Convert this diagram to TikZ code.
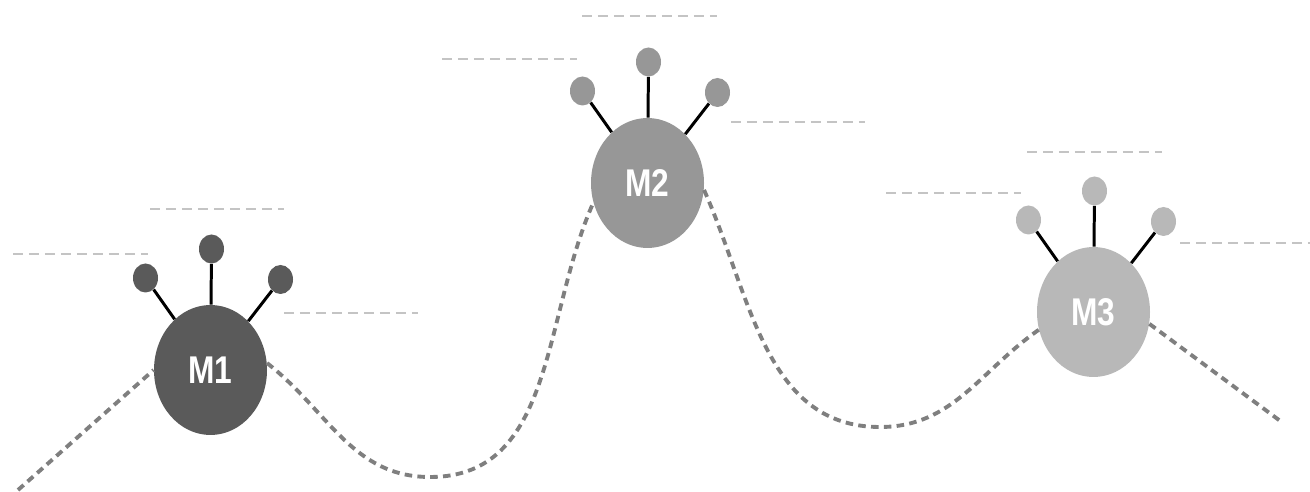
\documentclass[tikz,border=0pt]{standalone}
\usepackage{fontspec}
\setmainfont{Liberation Sans}
\usetikzlibrary{positioning,calc,shapes.geometric}
\definecolor{modone}{HTML}{5A5A5A}
\definecolor{modtwo}{HTML}{979797}
\definecolor{modthree}{HTML}{B8B8B8}
\definecolor{pathgray}{HTML}{7F7F7F}
\definecolor{guidegray}{HTML}{C4C4C4}
\tikzset{
  my module/.style={
    ellipse,
    minimum width=2.26cm,
    minimum height=2.6cm,
    inner sep=0pt,
    text=white,
    font=\fontsize{22}{22}\selectfont\bfseries
  },
  my knob/.style={
    ellipse,
    minimum width=0.5cm,
    minimum height=0.58cm,
    inner sep=0pt
  },
  my stem/.style={line width=1.7pt,black},
  my path/.style={line width=2.2pt,pathgray,dash pattern=on 4.3pt off 3pt},
  my guide/.style={line width=0.9pt,guidegray,dash pattern=on 5.5pt off 3.6pt}
}
\begin{document}
\begin{tikzpicture}
\useasboundingbox (0,0) rectangle (26.2,9.84);
\node[my module,fill=modone]   (m1) at (4.21,2.44)  {\scalebox{0.82}[1]{M1}};
\node[my module,fill=modtwo]   (m2) at (12.95,6.18) {\scalebox{0.82}[1]{M2}};
\node[my module,fill=modthree] (m3) at (21.87,3.60) {\scalebox{0.82}[1]{M3}};
% knobs on top of each module
\foreach \m/\c in {m1/modone,m2/modtwo,m3/modthree} {
  \node[my knob,fill=\c] (\m l) at ($(\m)+(-1.3,1.84)$) {};
  \node[my knob,fill=\c] (\m t) at ($(\m)+(0.02,2.42)$) {};
  \node[my knob,fill=\c] (\m r) at ($(\m)+(1.4,1.81)$)  {};
  \draw[my stem] (\m) -- (\m l) (\m) -- (\m t) (\m) -- (\m r);
}
% guide lines
\foreach \m/\a/\b/\c/\d/\e/\f/\g/\h/\i in {
    m1/-1.21/3.22/-3.95/2.32/1.47/1.14/2.68/2.70/2.68,
    m2/-1.31/3.34/-4.11/2.48/1.67/1.22/2.70/2.70/2.68,
    m3/-1.33/3.20/-4.15/2.38/1.73/1.38/2.70/2.70/2.62} {
  \draw[my guide] ($(\m)+(\a,\b)$) -- ++(\g,0);
  \draw[my guide] ($(\m)+(\c,\d)$) -- ++(\h,0);
  \draw[my guide] ($(\m)+(\e,\f)$) -- ++(\i,0);
}
% the dashed track
\coordinate (s)  at (0.36,0.04);
\coordinate (v1) at (8.6,0.3);
\coordinate (v2) at (17.6,1.3);
\coordinate (e)  at (25.66,1.38);
\draw[my path] (s) -- (m1.west);
\draw[my path] (m1.7) to[out=-38,in=180] (v1) to[out=0,in=-114] (m2.200);
\draw[my path] (m2.-7) to[out=-66,in=180] (v2) to[out=0,in=215] (m3.198);
\draw[my path] (m3.-12) -- (e);
\end{tikzpicture}
\end{document}
